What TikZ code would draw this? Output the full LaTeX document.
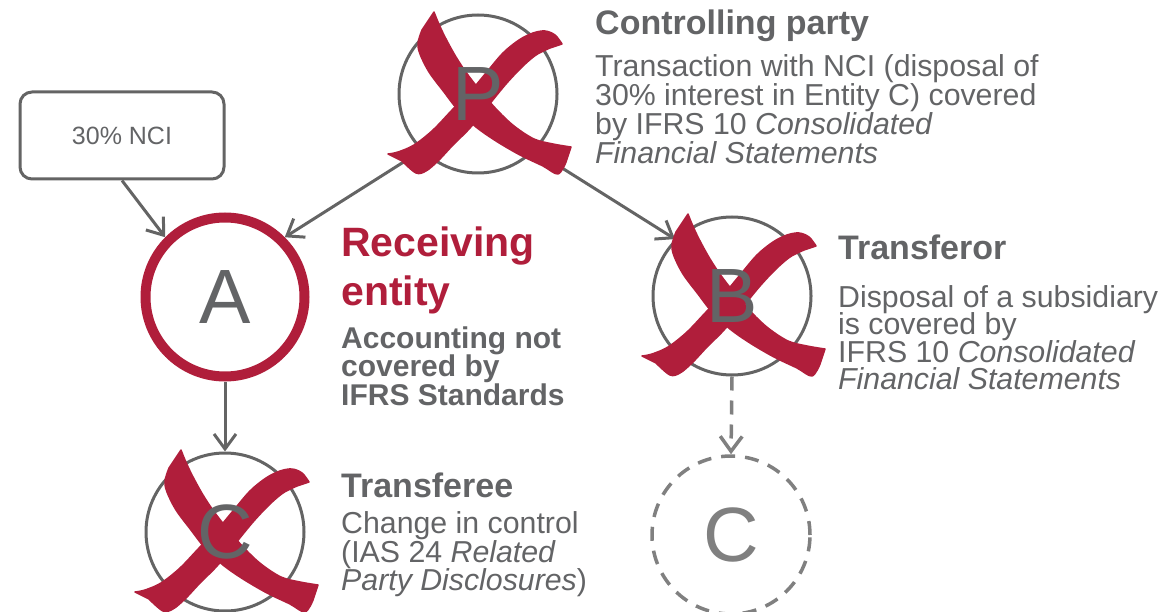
\documentclass[tikz,border=0pt]{standalone}
\usepackage{fontspec}
\setmainfont{Liberation Sans}
\usetikzlibrary{arrows.meta}
\definecolor{txtgray}{RGB}{99,100,102}
\definecolor{lngray}{RGB}{100,100,100}
\definecolor{dgray}{RGB}{128,128,128}
\definecolor{xred}{RGB}{176,30,59}
\tikzset{
  xmark/.pic={
    \filldraw[xred, line width=1.5pt, line join=round] plot[smooth,tension=0.55] coordinates {(-44,-82) (-40,-72) (-33,-57) (-22,-37) (-10,-19) (5,0) (20,17) (36,32) (56,45) (75,50) (93,53)}
      -- plot[smooth,tension=0.55] coordinates {(88,68) (80,80) (65,72) (42,61) (18,47) (-2,33) (-20,16) (-34,-2) (-49,-22) (-58,-40) (-60,-51) (-56,-64)} -- cycle;
    \filldraw[xred, line width=1.5pt, line join=round] plot[smooth,tension=0.55] coordinates {(84,-50) (77,-59) (67,-63) (55,-61) (41,-54) (25,-41) (8,-21) (-8,-2) (-25,15) (-45,36) (-64,51) (-80,58) (-90,60)}
      -- plot[smooth,tension=0.55] coordinates {(-76,67) (-62,79) (-52,77) (-40,67) (-25,51) (-8,34) (10,12) (28,-10) (44,-27) (58,-39) (72,-46)} -- cycle;
  }
}
\begin{document}
\begin{tikzpicture}[x=1pt,y=-1pt,
  circ/.style={circle, draw=lngray, line width=3pt, minimum size=158pt, inner sep=0pt},
  redcirc/.style={circle, draw=xred, line width=10pt, minimum size=159pt, inner sep=0pt},
  dcirc/.style={circle, draw=dgray, line width=3.5pt, minimum size=158pt, inner sep=0pt, dash pattern=on 14pt off 10pt},
  letter/.style={inner sep=0pt, text=txtgray, font=\fontsize{77}{77}\selectfont},
  arr/.style={draw=lngray, line width=3pt, -{Straight Barb[length=15pt,width=22pt]}},
  darr/.style={draw=dgray, line width=3.5pt, dash pattern=on 14pt off 10pt, -{Straight Barb[length=15pt,width=22pt]}},
  nbox/.style={draw=lngray, line width=3pt, rounded corners=12pt, minimum width=204pt, minimum height=87pt, inner sep=0pt, text=txtgray, font=\fontsize{25}{25}\selectfont},
  head/.style={anchor=base west, inner sep=0pt, text=txtgray, font=\fontsize{34}{34}\selectfont\bfseries},
  body/.style={anchor=base west, inner sep=0pt, text=txtgray, font=\fontsize{30.3}{30}\selectfont},
  bbody/.style={anchor=base west, inner sep=0pt, text=txtgray, font=\fontsize{30}{30}\selectfont\bfseries},
  rhead/.style={anchor=base west, inner sep=0pt, text=xred, font=\fontsize{41}{41}\selectfont\bfseries}
]
\useasboundingbox (0,0) rectangle (1161,612);

% circles
\node[circ] (P) at (478,94) {};
\node[redcirc, letter, text=txtgray] (A) at (225,297) {A};
\node[circ] (B) at (732,296) {};
\node[circ] (C1) at (225,532) {};
\node[dcirc, letter, text=dgray] (C2) at (731,535) {C};
\node[nbox] (nci) at (122,135.5) {30\% NCI};

% connectors
\draw[arr] (nci.south) -- (A.north west);
\draw[arr] (P.south west) -- (A.north east);
\draw[arr] (P.south east) -- (B.north west);
\draw[arr] (A.south) -- (C1.north);
\draw[darr] (B.south) -- (C2.north);

% crosses
\pic at (P) {xmark};
\pic at (B) {xmark};
\pic at (C1) {xmark};

% letters
\node[letter] (Pl) at (P) {P};
\node[letter] (Bl) at (B) {B};
\node[letter] (Cl) at (C1) {C};

% texts
\node[head] (t1) at (595,35) {Controlling party};
\node[body] (t2) at (595,77) {Transaction with NCI (disposal of};
\node[body] (t3) at (595,106) {30\% interest in Entity C) covered};
\node[body] (t4) at (595,135) {by IFRS 10 \textit{Consolidated}};
\node[body] (t5) at (595,164) {\textit{Financial Statements}};

\node[rhead] (r1) at (341,257) {Receiving};
\node[rhead] (r2) at (341,305) {entity};
\node[bbody] (r3) at (341,348) {Accounting not};
\node[bbody] (r4) at (341,376.5) {covered by};
\node[bbody] (r5) at (341,405) {IFRS Standards};

\node[head] (f1) at (838,259) {Transferor};
\node[body] (f2) at (838,307) {Disposal of a subsidiary};
\node[body] (f3) at (838,334.5) {is covered by};
\node[body] (f4) at (838,362) {IFRS 10 \textit{Consolidated}};
\node[body] (f5) at (838,389.5) {\textit{Financial Statements}};

\node[head] (e1) at (341,497) {Transferee};
\node[body] (e2) at (341,533) {Change in control};
\node[body] (e3) at (341,562) {(IAS 24 \textit{Related}};
\node[body] (e4) at (341,590) {\textit{Party Disclosures})};
\end{tikzpicture}
\end{document}
